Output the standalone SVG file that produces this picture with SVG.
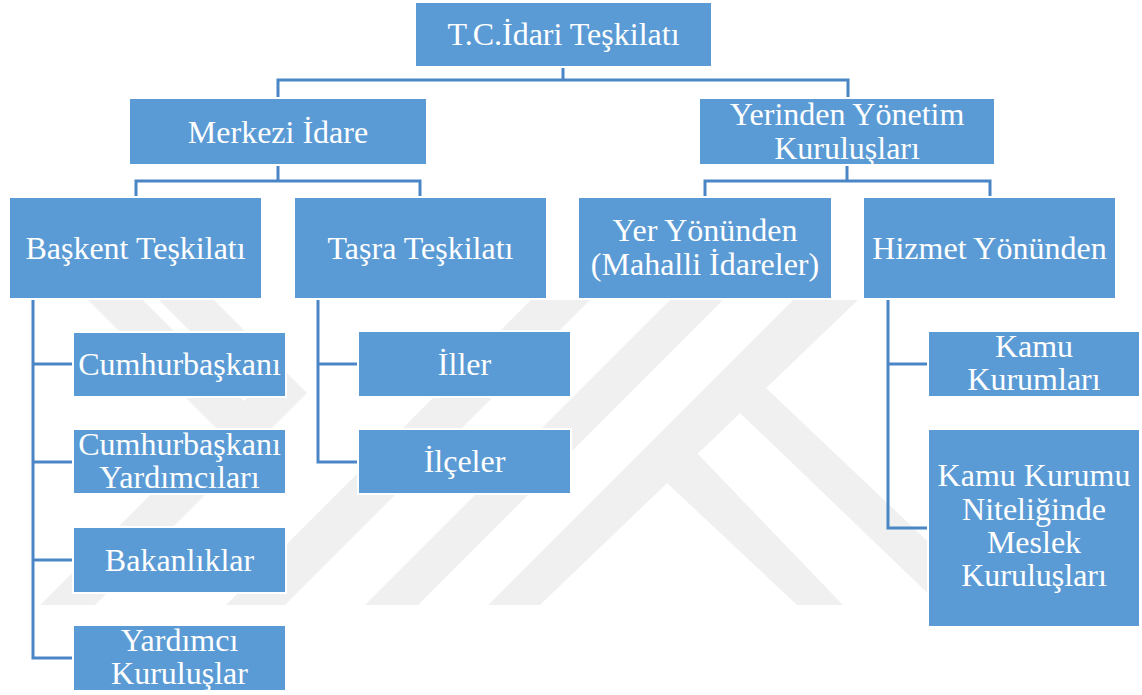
<svg xmlns="http://www.w3.org/2000/svg" width="1142" height="695" viewBox="0 0 1142 695">
  <style>
    .box { fill: #5B9BD5; stroke: #FFFFFF; stroke-width: 2; }
    .lbl { fill: #FFFFFF; font-family: 'Liberation Serif', 'Times New Roman', serif; font-size: 32px; text-anchor: middle; }
    .wire { fill: none; stroke: #4A86C5; stroke-width: 3; }
    .mark { fill: #F0F0F0; }
  </style>
  <defs>
    <clipPath id="markClip">
      <rect x="0" y="300" width="1142" height="305"/>
    </clipPath>
  </defs>

  <rect x="0" y="0" width="1142" height="695" fill="#FFFFFF"/>

  <!-- background emblem -->
  <g id="emblem" clip-path="url(#markClip)">
    <polygon class="mark" points="88,300 143,300 273,430 218,430"/>
    <polygon class="mark" points="159,300 214,300 307,393 95,605 40,605 252,393"/>
    <polygon class="mark" points="531,300 590,300 285,605 226,605"/>
    <polygon class="mark" points="670,300 723,300 418,605 365,605"/>
    <polygon class="mark" points="793,300 858,300 540,605 488,605"/>
    <polygon class="mark" points="766,388 940,553 940,605 740,413"/>
    <polygon class="mark" points="697,453 843,605 797,605 667,483"/>
  </g>

  <!-- connectors -->
  <g id="connectors">
    <path class="wire" d="M563,67 V80 M278,97 V80 H848 V97"/>
    <path class="wire" d="M278,165 V181 M136,196 V181 H420 V196"/>
    <path class="wire" d="M847,165 V181 M705,196 V181 H990 V196"/>
    <path class="wire" d="M33,299 V658 H73 M33,364 H73 M33,462 H73 M33,560 H73"/>
    <path class="wire" d="M318,299 V462 H358 M318,364 H358"/>
    <path class="wire" d="M888,299 V528 H928 M888,364 H928"/>
  </g>

  <g id="n-root">
    <rect class="box" x="415" y="2" width="297" height="65"/>
    <text class="lbl" x="563.5" y="44.5">T.C.İdari Teşkilatı</text>
  </g>
  <g id="n-merkezi">
    <rect class="box" x="129" y="98" width="298" height="67"/>
    <text class="lbl" x="278" y="142.5">Merkezi İdare</text>
  </g>
  <g id="n-yerinden">
    <rect class="box" x="699" y="98" width="296" height="67"/>
    <text class="lbl" x="847" y="125">Yerinden Yönetim</text>
    <text class="lbl" x="847" y="158.5">Kuruluşları</text>
  </g>
  <g id="n-baskent">
    <rect class="box" x="9" y="197" width="253" height="102"/>
    <text class="lbl" x="135.5" y="258.5">Başkent Teşkilatı</text>
  </g>
  <g id="n-tasra">
    <rect class="box" x="294" y="197" width="253" height="102"/>
    <text class="lbl" x="420.5" y="258.5">Taşra Teşkilatı</text>
  </g>
  <g id="n-yer">
    <rect class="box" x="578" y="197" width="254" height="102"/>
    <text class="lbl" x="705" y="241">Yer Yönünden</text>
    <text class="lbl" x="705" y="275">(Mahalli İdareler)</text>
  </g>
  <g id="n-hizmet">
    <rect class="box" x="863" y="197" width="253" height="102"/>
    <text class="lbl" x="989.5" y="258.5">Hizmet Yönünden</text>
  </g>
  <g id="n-cumhurbaskani">
    <rect class="box" x="73" y="332" width="213" height="65"/>
    <text class="lbl" x="179.5" y="375">Cumhurbaşkanı</text>
  </g>
  <g id="n-yardimcilari">
    <rect class="box" x="73" y="429" width="213" height="65"/>
    <text class="lbl" x="179.5" y="455">Cumhurbaşkanı</text>
    <text class="lbl" x="179.5" y="488">Yardımcıları</text>
  </g>
  <g id="n-bakanliklar">
    <rect class="box" x="73" y="527" width="213" height="66"/>
    <text class="lbl" x="179.5" y="570.5">Bakanlıklar</text>
  </g>
  <g id="n-yardimci">
    <rect class="box" x="73" y="625" width="213" height="66"/>
    <text class="lbl" x="179.5" y="651">Yardımcı</text>
    <text class="lbl" x="179.5" y="684">Kuruluşlar</text>
  </g>
  <g id="n-iller">
    <rect class="box" x="358" y="331" width="213" height="66"/>
    <text class="lbl" x="464.5" y="374.5">İller</text>
  </g>
  <g id="n-ilceler">
    <rect class="box" x="358" y="429" width="213" height="65"/>
    <text class="lbl" x="464.5" y="472">İlçeler</text>
  </g>
  <g id="n-kamu">
    <rect class="box" x="928" y="331" width="212" height="66"/>
    <text class="lbl" x="1034" y="357">Kamu</text>
    <text class="lbl" x="1034" y="390">Kurumları</text>
  </g>
  <g id="n-meslek">
    <rect class="box" x="928" y="429" width="212" height="198"/>
    <text class="lbl" x="1034" y="486">Kamu Kurumu</text>
    <text class="lbl" x="1034" y="519.5">Niteliğinde</text>
    <text class="lbl" x="1034" y="553">Meslek</text>
    <text class="lbl" x="1034" y="586">Kuruluşları</text>
  </g>
</svg>
